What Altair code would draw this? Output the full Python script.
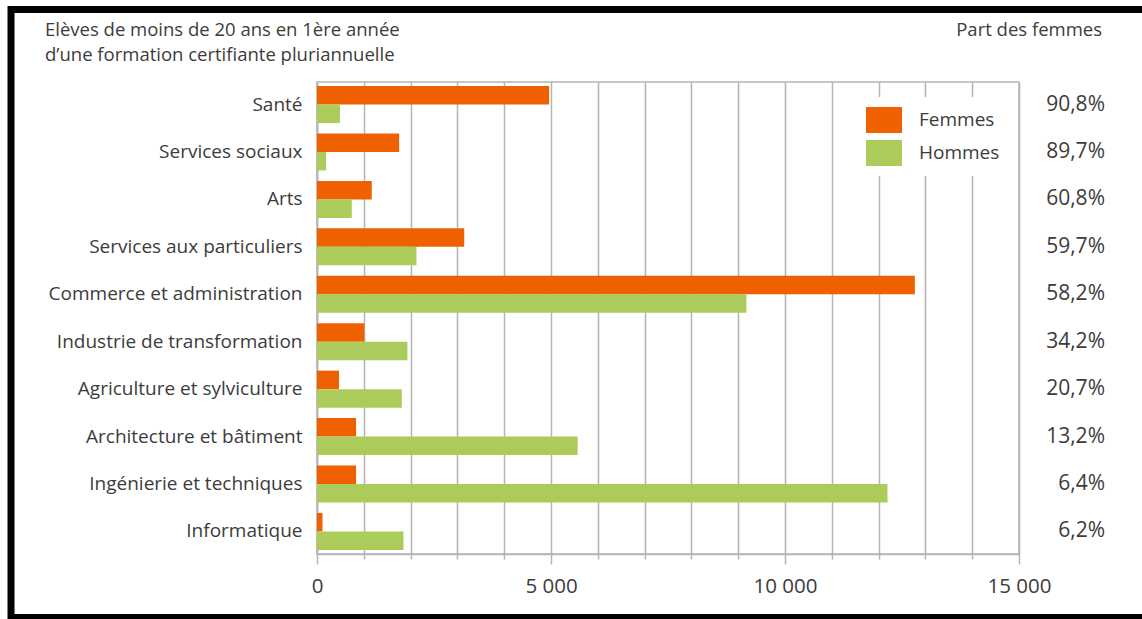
import altair as alt
import pandas as pd

categories = ["Santé", "Services sociaux", "Arts", "Services aux particuliers",
              "Commerce et administration", "Industrie de transformation",
              "Agriculture et sylviculture", "Architecture et bâtiment",
              "Ingénierie et techniques", "Informatique"]
femmes = [4960, 1755, 1170, 3146, 12775, 1012, 470, 835, 835, 118]
hommes = [490, 195, 743, 2125, 9175, 1932, 1812, 5570, 12190, 1848]
part_femmes = ["90,8%", "89,7%", "60,8%", "59,7%", "58,2%", "34,2%",
               "20,7%", "13,2%", "6,4%", "6,2%"]
series = ["Femmes", "Hommes"]
colors = ["#EF6100", "#ABCB5A"]
x_ticks = list(range(0, 15001, 1000))
title_lines = ["Elèves de moins de 20 ans en 1ère année",
               "d’une formation certifiante pluriannuelle"]
right_title = "Part des femmes"

TXT = "#3c3c3c"
GRID = "#b4b4b4"
FS_CAT = 19
FS_TITLE = 18.5
FS_PCT = 21
FS_X = 20.5
FS_LEG = 19

rows = []
for c, f, h in zip(categories, femmes, hommes):
    rows.append({"cat": c, "sexe": "Femmes", "val": f})
    rows.append({"cat": c, "sexe": "Hommes", "val": h})
df = pd.DataFrame(rows)
df_pct = pd.DataFrame({"cat": categories, "pct": part_femmes})

yscale = alt.Scale(domain=categories, paddingInner=0.22, paddingOuter=0.085)
yenc = alt.Y("cat:N", sort=categories, scale=yscale,
             axis=alt.Axis(title=None, ticks=False, labelPadding=15,
                           labelFontSize=FS_CAT, labelColor=TXT, labelLimit=400,
                           domainColor=GRID, domainWidth=1.5))

bars = alt.Chart(df).mark_bar().encode(
    y=yenc,
    x=alt.X("val:Q", scale=alt.Scale(domain=[0, 15000], nice=False),
            axis=alt.Axis(title=None, values=x_ticks, grid=True,
                          gridColor=GRID, gridWidth=1.5,
                          tickColor=GRID, tickWidth=1.5,
                          tickSize={"condition": {"test": "datum.value % 5000 === 0", "value": 10}, "value": 5},
                          domainColor=GRID, domainWidth=1.5,
                          labelExpr="datum.value % 5000 === 0 ? replace(format(datum.value, ','), ',', ' ') : ''",
                          labelFlush=False, labelOverlap=False,
                          labelFontSize=FS_X, labelColor=TXT, labelPadding=12)),
    color=alt.Color("sexe:N", scale=alt.Scale(domain=series, range=colors),
                    legend=alt.Legend(title=None, orient="none", legendX=544, legendY=15,
                                      symbolType="M-1.385,-1H1.385V1H-1.385Z",
                                      symbolSize=676, symbolStrokeWidth=0, symbolOpacity=1,
                                      labelFontSize=FS_LEG, labelColor=TXT, labelOffset=22,
                                      rowPadding=7, padding=10, fillColor="white")),
    yOffset=alt.YOffset("sexe:N", sort=series),
)

pct = alt.Chart(df_pct).mark_text(align="right", baseline="middle", fontSize=FS_PCT, color=TXT).encode(
    y=alt.Y("cat:N", sort=categories, scale=yscale),
    x=alt.value(788),
    text="pct:N",
)

t1 = alt.Chart(pd.DataFrame({"t": [title_lines[0]]})).mark_text(
    align="left", baseline="middle", fontSize=FS_TITLE, color=TXT).encode(
    x=alt.value(-272), y=alt.value(-52), text="t:N")
t2 = alt.Chart(pd.DataFrame({"t": [title_lines[1]]})).mark_text(
    align="left", baseline="middle", fontSize=FS_TITLE, color=TXT).encode(
    x=alt.value(-272), y=alt.value(-27), text="t:N")
t3 = alt.Chart(pd.DataFrame({"t": [right_title]})).mark_text(
    align="right", baseline="middle", fontSize=FS_TITLE, color=TXT).encode(
    x=alt.value(785), y=alt.value(-52), text="t:N")

border = alt.Chart(pd.DataFrame({"a": [0]})).mark_rect(
    fillOpacity=0, stroke="black", strokeWidth=7).encode(
    x=alt.value(-306), x2=alt.value(845), y=alt.value(-72.5), y2=alt.value(535.5))

chart = alt.layer(bars, pct, t1, t2, t3, border).properties(
    width=702, height=472,
    padding={"left": 317, "top": 82, "right": 123, "bottom": 65},
    autosize=alt.AutoSizeParams(type="none"),
    background="white",
).configure(font="Open Sans").configure_view(stroke=GRID, strokeWidth=1.5)

chart.save("out.html", embed_options={"renderer": "svg", "actions": False})
